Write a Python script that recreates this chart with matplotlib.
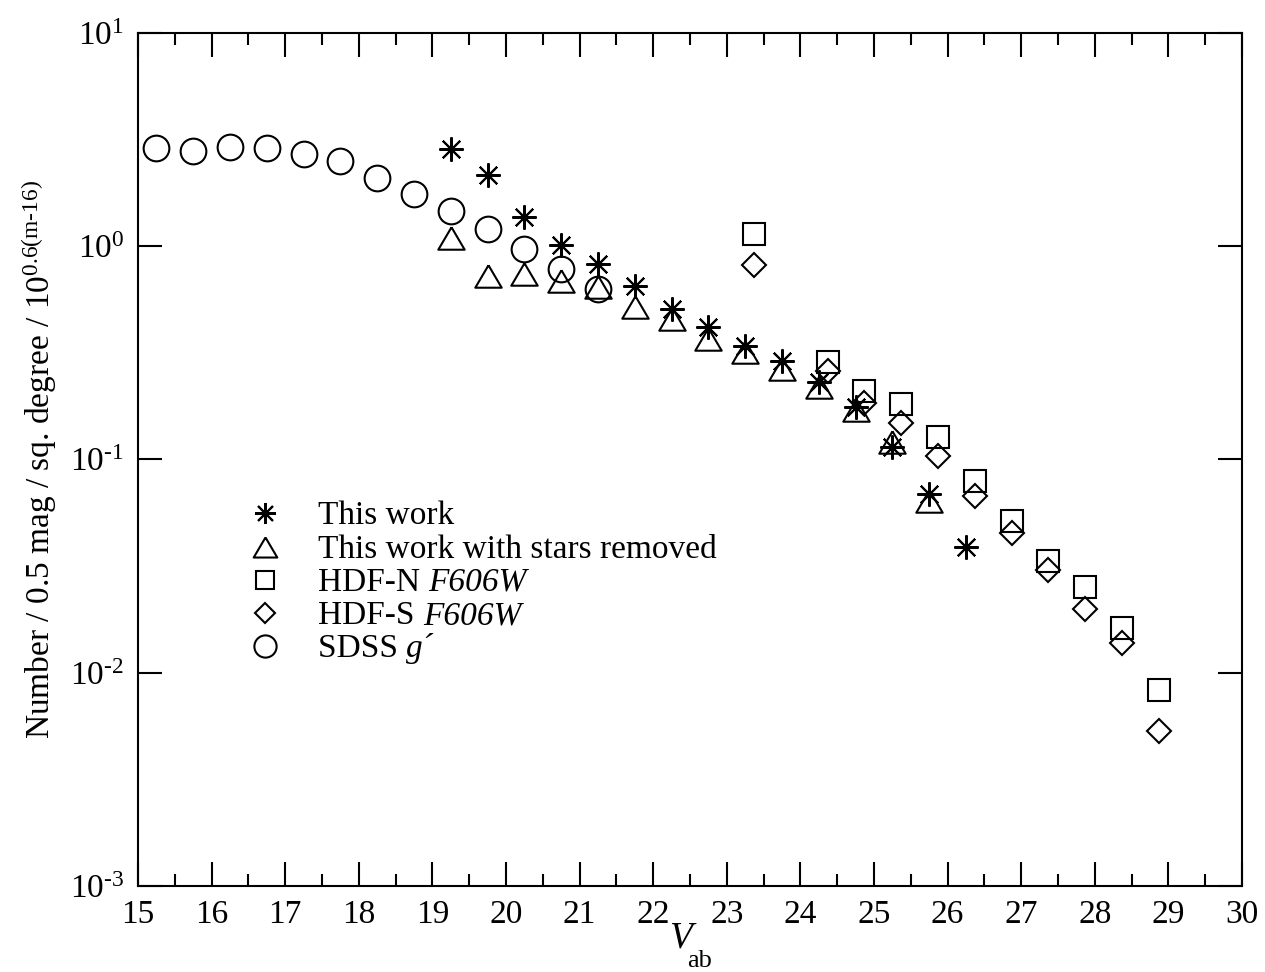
import numpy as np
import matplotlib
matplotlib.use("Agg")
import matplotlib.pyplot as plt
from matplotlib.ticker import LogLocator, MultipleLocator, NullLocator, FuncFormatter

plt.rcParams["font.family"] = ["Liberation Serif", "DejaVu Serif"]
plt.rcParams["mathtext.fontset"] = "custom"
plt.rcParams["mathtext.rm"] = "Liberation Serif"
plt.rcParams["mathtext.it"] = "Liberation Serif:italic"
plt.rcParams["mathtext.bf"] = "Liberation Serif:bold"

# --- datos ---
mag_work = [19.25, 19.75, 20.25, 20.75, 21.25, 21.75, 22.25, 22.75, 23.25,
            23.75, 24.25, 24.75, 25.25, 25.75, 26.25]
n_work = [2.86, 2.15, 1.37, 1.01, 0.822, 0.653, 0.508, 0.417, 0.342,
          0.289, 0.232, 0.177, 0.115, 0.0689, 0.039]

mag_nostars = [19.25, 19.75, 20.25, 20.75, 21.25, 21.75, 22.25, 22.75, 23.25,
               23.75, 24.25, 24.75, 25.25, 25.75]
n_nostars = [1.09, 0.726, 0.743, 0.684, 0.643, 0.521, 0.455, 0.368, 0.318,
             0.266, 0.219, 0.170, 0.121, 0.0637]

mag_hdf = [23.37, 24.37, 24.87, 25.37, 25.87, 26.37, 26.87, 27.37, 27.87,
           28.37, 28.87]
n_hdfn = [1.14, 0.286, 0.209, 0.183, 0.128, 0.0791, 0.0512, 0.0333, 0.0252,
          0.0163, 0.00834]
n_hdfs = [0.821, 0.259, 0.185, 0.148, 0.104, 0.0676, 0.0453, 0.0302, 0.0198,
          0.0138, 0.00532]

mag_sdss = [15.25, 15.75, 16.25, 16.75, 17.25, 17.75, 18.25, 18.75, 19.25,
            19.75, 20.25, 20.75, 21.25]
n_sdss = [2.88, 2.81, 2.93, 2.88, 2.72, 2.51, 2.10, 1.76, 1.46,
          1.20, 0.968, 0.781, 0.628]

# etiquetas: (parte normal, parte en cursiva)
labels = [("This work", ""), ("This work with stars removed", ""),
          ("HDF-N ", "F606W"), ("HDF-S ", "F606W"), ("SDSS ", "g\u00b4")]

# marcadores
ast = (8, 2, 0)
tri = [(0, 0.85), (-1, -0.85), (1, -0.85), (0, 0.85)]

W, H = 1265, 972
fig = plt.figure(figsize=(W / 100, H / 100), dpi=100)
ax = fig.add_axes([138 / W, 1 - 886 / H, 1104 / W, 853 / H])

mk = dict(linestyle="none", color="black", markerfacecolor="none",
          markeredgewidth=1.5, clip_on=False)
ax.plot(mag_sdss, n_sdss, marker="o", markersize=18.5, **mk)
ax.plot(mag_nostars, n_nostars, marker=tri, markersize=19, **mk)
ax.plot(mag_hdf, n_hdfn, marker="s", markersize=15.5, **mk)
ax.plot(mag_hdf, n_hdfs, marker="D", markersize=12.3, **mk)
ax.plot(mag_work, n_work, marker=ast, markersize=17.5, **mk)

ax.set_xlim(15, 30)
ax.set_yscale("log")
ax.set_ylim(1e-3, 10)

def log_fmt(v, pos):
    e = int(round(np.log10(v)))
    if e < 0:
        return r"$\mathdefault{10^{\text{-}%d}}$" % (-e)
    return r"$\mathdefault{10^{%d}}$" % e

ax.xaxis.set_major_locator(MultipleLocator(1))
ax.xaxis.set_minor_locator(MultipleLocator(0.5))
ax.yaxis.set_major_locator(LogLocator(base=10, numticks=10))
ax.yaxis.set_minor_locator(NullLocator())
ax.yaxis.set_major_formatter(FuncFormatter(log_fmt))

ax.tick_params(which="both", direction="in", top=True, right=True,
               labelsize=24, width=1.5, pad=10)
ax.tick_params(which="major", length=17)
ax.tick_params(which="minor", length=8.5)
for s in ax.spines.values():
    s.set_linewidth(1.5)

ax.set_ylabel(r"Number / 0.5 mag / sq. degree / 10$^{\mathrm{0.6(m\text{-}16)}}$",
              fontsize=24, labelpad=8)

# etiqueta x: V cursiva con subindice "ab"
fig.text(669 / W, 1 - 947 / H, "V", fontsize=27, fontstyle="italic",
         ha="left", va="baseline")
fig.text(687 / W, 1 - 967 / H, "ab", fontsize=19, ha="left", va="baseline")

# leyenda manual (sin marco)
renderer = fig.canvas.get_renderer()
leg_markers = [(ast, 15), (tri, 17), ("s", 13), ("D", 10.5), ("o", 16)]
x_mk, x_tx = 0.115, 0.163
y0, dy = 0.437, 0.039
for i, ((m, ms), (lab, lab_it)) in enumerate(zip(leg_markers, labels)):
    yy = y0 - i * dy
    ax.plot([x_mk], [yy], marker=m, markersize=ms, linestyle="none",
            color="black", markerfacecolor="none", markeredgewidth=1.5,
            transform=ax.transAxes)
    t = ax.text(x_tx, yy - 0.013, lab, fontsize=24, transform=ax.transAxes,
                va="baseline", ha="left")
    if lab_it:
        bb = t.get_window_extent(renderer)
        x_end = ax.transAxes.inverted().transform((bb.x1, bb.y0))[0]
        ax.text(x_end, yy - 0.013, lab_it, fontsize=24, fontstyle="italic",
                transform=ax.transAxes, va="baseline", ha="left")

fig.savefig("out.png", dpi=100)
